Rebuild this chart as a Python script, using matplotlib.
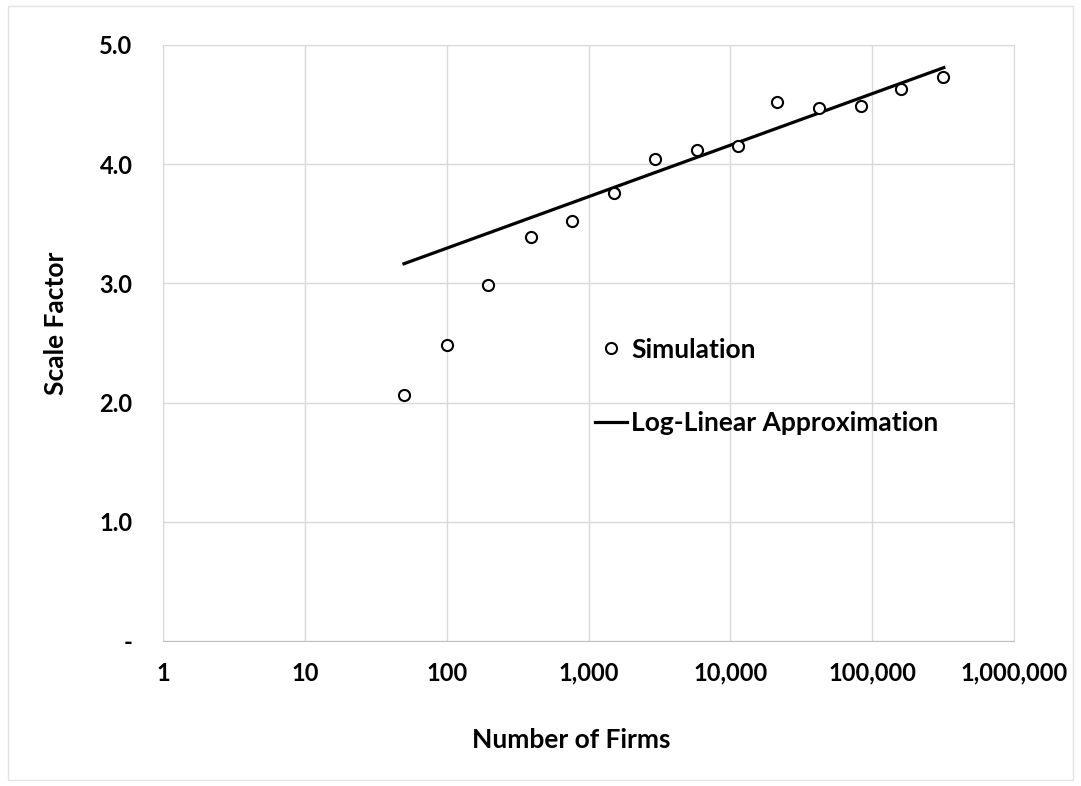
import matplotlib.pyplot as plt
from matplotlib.patches import Rectangle
from matplotlib.ticker import FuncFormatter

# simulation points
firms = [50, 100, 195, 395, 770, 1520, 2930, 5780, 11300, 21500, 42300, 84000, 160000, 315000]
scale = [2.06, 2.48, 2.99, 3.39, 3.52, 3.76, 4.04, 4.12, 4.15, 4.52, 4.47, 4.49, 4.63, 4.73]

# log-linear approximation end points
fit_x = [50, 320000]
fit_y = [3.165, 4.81]

x_ticks = [1, 10, 100, 1000, 10000, 100000, 1000000]
y_ticks = [0, 1, 2, 3, 4, 5]

font = 'Lato'
grid_col = '#d9d9d9'

fig = plt.figure(figsize=(10.81, 7.86), dpi=100)
ax = fig.add_axes([163 / 1081, 1 - 641 / 786, (1014 - 163) / 1081, (641 - 45) / 786])

ax.plot(fit_x, fit_y, color='black', lw=2.3, label='Log-Linear Approximation', zorder=3)
ax.plot(firms, scale, 'o', ms=8, mfc='white', mec='black', mew=1.5,
        label='Simulation', zorder=4)

ax.set_xscale('log')
ax.set_xlim(1, 1000000)
ax.set_ylim(0, 5)
ax.set_xticks(x_ticks)
ax.set_yticks(y_ticks)
ax.minorticks_off()
ax.xaxis.set_major_formatter(FuncFormatter(lambda v, p: '{:,.0f}'.format(v)))
ax.yaxis.set_major_formatter(FuncFormatter(lambda v, p: '-' if v == 0 else '%.1f' % v))

ax.grid(True, color=grid_col, lw=1)
ax.set_axisbelow(True)
for s in ['top', 'right', 'left']:
    ax.spines[s].set_color(grid_col)
ax.spines['bottom'].set_color('#bfbfbf')
ax.tick_params(length=0, labelsize=17)
ax.tick_params(axis='x', pad=15)
ax.tick_params(axis='y', pad=22)
for lab in ax.get_xticklabels() + ax.get_yticklabels():
    lab.set_fontfamily(font)
    lab.set_fontweight('bold')

ax.set_xlabel('Number of Firms', fontsize=19, fontweight='bold', family=font, va='center')
ax.xaxis.set_label_coords(0.4794, -0.166)
ax.set_ylabel('Scale Factor', fontsize=19, fontweight='bold', family=font, va='center')
ax.yaxis.set_label_coords(-0.1257, 0.5336)

h, l = ax.get_legend_handles_labels()
ax.legend(h[::-1], l[::-1], loc='upper left', bbox_to_anchor=(0.5504, 0.5706),
          bbox_transform=fig.transFigure, frameon=False, handlelength=1.2,
          handletextpad=0.18, labelspacing=1.89, borderpad=0, borderaxespad=0,
          prop={'family': font, 'weight': 'bold', 'size': 19})

fig.patches.append(Rectangle((8 / 1081, 6 / 786), 1065 / 1081, 774 / 786, fill=False,
                             edgecolor='#e3e3e3', lw=1, transform=fig.transFigure))

fig.savefig('out.png', dpi=100)
